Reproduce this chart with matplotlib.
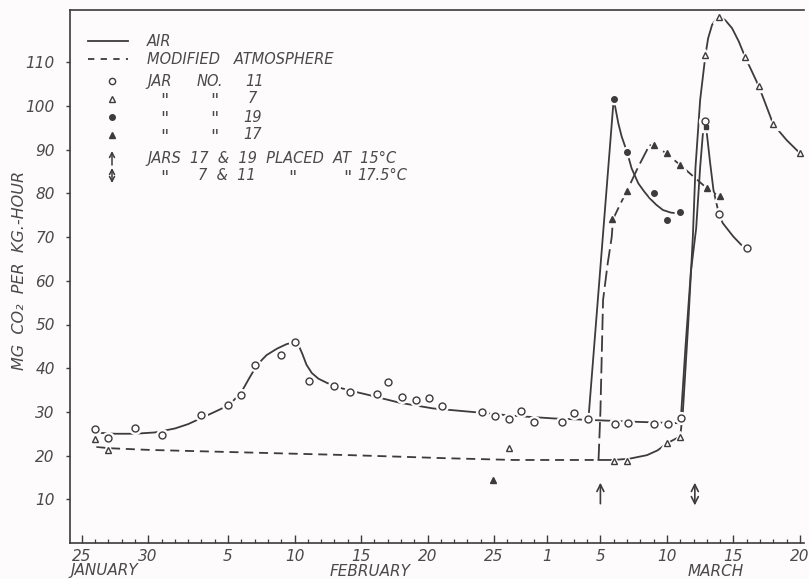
import matplotlib
matplotlib.use("Agg")
import matplotlib.pyplot as plt
from matplotlib.lines import Line2D

# ---------------- data (day 0 = January 25) ----------------
# Jar 11 (open circles, air)
jar11_days = [1, 2, 4, 6, 9, 11, 12, 13, 15, 16, 17.1, 19, 20.2, 22.2, 23.05, 24.1, 25.1, 26.1, 27.1,
              30.1, 31.1, 32.1, 33, 34, 36.1, 37, 38.1, 40.1, 41.05, 43, 44.05, 45.05, 46.9, 47.9, 50]
jar11_vals = [26.2, 24.1, 26.3, 24.8, 29.4, 31.5, 33.8, 40.8, 43.0, 45.9, 37.0, 36.0, 34.5, 34.0, 36.9, 33.5,
              32.7, 33.2, 31.4, 29.9, 29.1, 28.3, 30.2, 27.8, 27.8, 29.8, 28.4, 27.2, 27.4, 27.2, 27.2,
              28.5, 96.6, 75.4, 67.4]
# Jar 7 (open triangles, modified atmosphere)
jar7_days = [1, 2, 32.1, 40, 41, 44, 45, 46.9, 47.9, 49.9, 50.9, 52, 54]
jar7_vals = [23.9, 21.3, 21.7, 18.8, 18.8, 22.8, 24.3, 111.7, 120.4, 111.1, 104.6, 95.8, 89.2]
# Jar 19 (filled circles, air)
jar19_days = [40, 41, 43, 44, 45]
jar19_vals = [101.6, 89.5, 80.2, 73.9, 75.7]
# Jar 17 (filled triangles, modified atmosphere)
jar17_days = [30.9, 39.9, 41, 43, 44, 45, 47, 48]
jar17_vals = [14.4, 74.1, 80.6, 91.1, 89.3, 86.5, 81.2, 79.5]
extra_days = [46.95]
extra_vals = [95.3]

# fitted curves
air_days = [1.4, 2.5, 4, 5.5, 7, 8, 9, 10, 11.1, 12, 12.65, 13.2, 13.9, 14.7, 15.4, 16.0, 16.3, 16.6,
            16.9, 17.3, 17.8, 18.4, 18.9, 20, 21.4, 23.9, 26.4, 29.7, 32.5, 35.5, 38.7, 42, 45.0]
air_vals = [25.2, 25.0, 25.0, 25.3, 26.2, 27.2, 28.6, 30.0, 31.6, 34.5, 38.0, 40.8, 43.0, 44.5, 45.5,
            46.0, 45.3, 43.2, 40.8, 38.9, 37.6, 36.7, 36.0, 35.0, 34.0, 32.1, 30.8, 29.9, 29.1, 28.5,
            28.1, 27.7, 27.4]
mod_days = [1.1, 2, 5.1, 12.6, 20.2, 23.9, 27.4, 32.5, 38.86]
mod_vals = [22.0, 21.7, 21.3, 20.7, 20.1, 19.75, 19.4, 19.0, 19.0]
mod2_days = [38.86, 40, 41.2, 42.5, 43.3, 44.0, 45.0]
mod2_vals = [19.0, 19.0, 19.3, 20.1, 21.2, 22.8, 24.4]
j19_curve_days = [38.1, 40.0, 40.35, 40.6, 41.0, 41.35, 41.85, 42.3, 42.7, 43.2, 43.7, 44.3, 45.0]
j19_curve_vals = [28.4, 101.6, 96.0, 93.0, 89.5, 85.7, 82.3, 80.4, 78.9, 77.4, 76.2, 75.6, 75.4]
j17_rise_days = [38.86, 39.0, 39.2, 39.55, 39.85, 39.95, 40.5, 41.0, 41.85, 42.7]
j17_rise_vals = [19.0, 30.0, 55.6, 64.0, 70.0, 74.1, 77.6, 80.6, 86.1, 91.1]
j17_fall_days = [42.7, 43.8, 45.0, 47.0, 48.0]
j17_fall_vals = [91.1, 89.5, 86.5, 81.2, 79.2]
j7_curve_days = [45.0, 45.2, 45.6, 45.95, 46.15, 46.5, 46.9, 47.1, 47.4, 47.9, 48.4, 48.9, 49.4, 49.9,
                 50.9, 52.0, 53.0, 54.0]
j7_curve_vals = [24.3, 30, 50, 70, 86, 101.4, 111.7, 115.5, 118.6, 120.6, 119.6, 117.8, 114.8, 111.1,
                 104.6, 95.8, 92.2, 89.2]
j11_curve_days = [45.05, 45.4, 45.8, 46.2, 46.5, 46.75, 46.9, 47.0, 47.25, 47.5, 47.9, 48.2, 49.0, 49.6, 50.0]
j11_curve_vals = [28.5, 45, 62, 72, 86, 95.3, 96.6, 93.8, 87, 80.8, 75.4, 73.2, 70.1, 68.2, 67.4]

tick_days = [0, 5, 11, 16, 21, 26, 31, 35, 39, 44, 49, 54]
tick_labels = ["25", "30", "5", "10", "15", "20", "25", "1", "5", "10", "15", "20"]
ytick_vals = [10, 20, 30, 40, 50, 60, 70, 80, 90, 100, 110]
arrow15_day = 39.0
arrow175_day = 46.1

# ---------------- style ----------------
W, H = 809, 579
BG = "#fdfbfc"
LC = "#3c3c3c"
TC = "#4a4a4a"
FONT = dict(family="DejaVu Sans", style="italic", color=TC)


def fx(px):
    return px / W


def fy(py):
    return 1 - py / H


fig = plt.figure(figsize=(W / 100, H / 100), dpi=100, facecolor=BG)
ax = fig.add_axes([fx(70), fy(543), fx(804) - fx(70), fy(10) - fy(543)])
ax.set_facecolor(BG)
ax.set_xlim((70 - 81.7) / 13.3, (804 - 81.7) / 13.3)
ax.set_ylim(0, (543 - 10) / 4.37)
ax.spines["right"].set_visible(False)
for s in ["top", "left", "bottom"]:
    ax.spines[s].set_color(LC)
    ax.spines[s].set_linewidth(1.2)

lw = 1.3
dash = (0, (5, 3.2))
ax.plot(air_days, air_vals, color=LC, lw=lw, zorder=2)
ax.plot(mod_days, mod_vals, color=LC, lw=lw, linestyle=dash, zorder=2)
ax.plot(mod2_days, mod2_vals, color=LC, lw=lw, zorder=2)
ax.plot(j19_curve_days, j19_curve_vals, color=LC, lw=lw, zorder=2)
ax.plot(j17_rise_days, j17_rise_vals, color=LC, lw=lw, linestyle=(0, (9, 3)), zorder=2)
ax.plot(j17_fall_days, j17_fall_vals, color=LC, lw=lw, linestyle=dash, zorder=2)
ax.plot(j7_curve_days, j7_curve_vals, color=LC, lw=lw, zorder=2)
ax.plot(j11_curve_days, j11_curve_vals, color=LC, lw=lw, zorder=2)


def pts(d, v, marker, ms, filled):
    ax.plot(d, v, linestyle="none", marker=marker, ms=ms + 3.5, color=BG, mec=BG, zorder=3)
    ax.plot(d, v, linestyle="none", marker=marker, ms=ms, mfc=LC if filled else BG,
            mec=LC, mew=1.0, zorder=4)


pts(jar11_days, jar11_vals, "o", 5, False)
pts(jar7_days, jar7_vals, "^", 4.5, False)
pts(jar19_days, jar19_vals, "o", 4, True)
pts(jar17_days, jar17_vals, "^", 4.5, True)
pts(extra_days, extra_vals, "s", 3, True)

# bottom arrows
ax.annotate("", xy=(arrow15_day, 13.8), xytext=(arrow15_day, 9.0),
            arrowprops=dict(arrowstyle="->,head_length=0.5,head_width=0.25", color=LC, lw=1.2,
                            shrinkA=0, shrinkB=0))
ax.annotate("", xy=(arrow175_day, 13.8), xytext=(arrow175_day, 8.6),
            arrowprops=dict(arrowstyle="<->,head_length=0.5,head_width=0.25", color=LC, lw=1.2,
                            shrinkA=0, shrinkB=0))

# ticks
ax.set_xticks(tick_days)
ax.set_xticklabels(tick_labels)
ax.set_xticks(list(range(0, 55)), minor=True)
ax.tick_params(axis="x", which="major", direction="in", length=6, width=1, color=LC, pad=4)
ax.tick_params(axis="x", which="minor", direction="in", length=3, width=0.9, color=LC)
ax.set_yticks(ytick_vals)
ax.set_yticklabels([str(v) for v in ytick_vals])
ax.tick_params(axis="y", which="major", direction="out", length=3, width=1, color=LC, pad=8)
for lab in ax.get_xticklabels() + ax.get_yticklabels():
    lab.set_fontstyle("italic")
    lab.set_fontsize(11)
    lab.set_color(TC)

# month labels and y label
fig.text(fx(70), fy(571), "JANUARY", ha="left", va="center", fontsize=11, **FONT)
fig.text(fx(370), fy(571), "FEBRUARY", ha="center", va="center", fontsize=11, **FONT)
fig.text(fx(716), fy(571), "MARCH", ha="center", va="center", fontsize=11, **FONT)
fig.text(fx(20), fy(270), "MG  CO\u2082  PER  KG.-HOUR", rotation=90, ha="center", va="center",
         fontsize=11.5, **FONT)

# legend (drawn by hand like the original)
fig.add_artist(Line2D([fx(88), fx(128)], [fy(41), fy(41)], color=LC, lw=lw, transform=fig.transFigure))
fig.add_artist(Line2D([fx(88), fx(128)], [fy(59), fy(59)], color=LC, lw=lw, linestyle=(0, (3.5, 3.5)),
                      transform=fig.transFigure))
fig.add_artist(Line2D([fx(112)], [fy(81)], marker="o", ms=4.5, mfc=BG, mec=LC, mew=1,
                      transform=fig.transFigure))
fig.add_artist(Line2D([fx(112)], [fy(99)], marker="^", ms=4.5, mfc=BG, mec=LC, mew=1,
                      transform=fig.transFigure))
fig.add_artist(Line2D([fx(112)], [fy(117)], marker="o", ms=4, mfc=LC, mec=LC,
                      transform=fig.transFigure))
fig.add_artist(Line2D([fx(112)], [fy(135)], marker="^", ms=4.5, mfc=LC, mec=LC,
                      transform=fig.transFigure))
ax.annotate("", xy=(fx(112), fy(151)), xytext=(fx(112), fy(165)), xycoords="figure fraction",
            arrowprops=dict(arrowstyle="->,head_length=0.35,head_width=0.18", color=LC, lw=1.1,
                            shrinkA=0, shrinkB=0))
ax.annotate("", xy=(fx(112), fy(168)), xytext=(fx(112), fy(183)), xycoords="figure fraction",
            arrowprops=dict(arrowstyle="<->,head_length=0.35,head_width=0.18", color=LC, lw=1.1,
                            shrinkA=0, shrinkB=0))

legend_texts = [
    (147, 41, "AIR"),
    (147, 59, "MODIFIED   ATMOSPHERE"),
    (147, 81, "JAR"), (197, 81, "NO."), (245, 81, "11"),
    (248, 99, "7"),
    (243, 117, "19"),
    (243, 135, "17"),
    (147, 158, "JARS  17  &  19  PLACED  AT  15°C"),
    (198, 176, "7  &  11"), (357, 176, "17.5°C"),
]
for x, y, t in legend_texts:
    fig.text(fx(x), fy(y), t, ha="left", va="center", fontsize=10.5, **FONT)

ditto_marks = [(160, 101), (210, 101), (160, 119), (210, 119), (160, 137), (210, 137),
               (160, 178), (288, 178), (343, 178)]
for x, y in ditto_marks:
    fig.text(fx(x), fy(y), '"', ha="left", va="center", fontsize=13, **FONT)

fig.savefig("out.png", dpi=100, facecolor=BG)
